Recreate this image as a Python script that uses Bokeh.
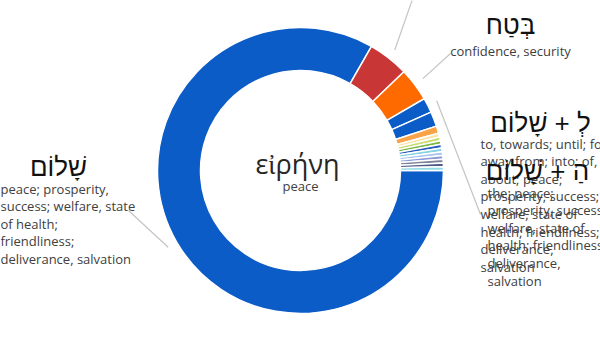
import math
from bokeh.plotting import figure
from bokeh.models import Range1d
from bokeh.core.properties import value
from bokeh.embed import file_html
from bokeh.resources import INLINE

# Hebrew words rendered by εἰρήνη, and how often each one occurs
counts = [199, 11, 9, 4, 4, 2, 1, 1, 1, 1, 1, 1, 1, 1, 1, 1]
slice_colors = ["#0B5CC7", "#C93636", "#FF6A00", "#0B5CC7", "#0B5CC7",
                "#F9A247", "#FCE3A2", "#C9DC6E", "#7DB844", "#2A5DBE",
                "#86D3E3", "#A9C6EE", "#8C9BD8", "#7D8296", "#505C88",
                "#93DBE4"]

# labelled slices: slice index, Hebrew word, English gloss
label_slice = [0, 2, 3, 4]
label_words = ["שָׁלוֹם", "בְּטַח", "לְ + שָׁלוֹם", "הַ + שָׁלוֹם"]
label_glosses = [
    "peace; prosperity,\nsuccess; welfare, state\nof health;\nfriendliness;\ndeliverance, salvation",
    "confidence, security",
    "to, towards; until; for\naway from; into; of,\nabout; peace;\nprosperity, success;\nwelfare, state of\nhealth; friendliness;\ndeliverance,\nsalvation",
    "the; peace;\nprosperity, success\nwelfare, state of\nhealth; friendliness\ndeliverance,\nsalvation",
]
center_word = "εἰρήνη"
center_gloss = "peace"

W, H = 600, 338
CX, CY = 300, 170          # ring centre, in page pixels (y down)
R_OUT, R_IN = 143, 100
FIRST_ANGLE = 90.0         # clockwise degrees from 12 o'clock


def sy(y):
    """page y (down) -> data y (up)"""
    return H - y


p = figure(width=W, height=H, output_backend="svg", toolbar_location=None,
           x_range=Range1d(0, W), y_range=Range1d(0, H), min_border=0)
p.axis.visible = False
p.grid.visible = False
p.outline_line_color = None
p.background_fill_color = "white"
p.border_fill_color = "white"

# slice angles, clockwise from the top
total = sum(counts)
cw_start, cw_end = [], []
acc = FIRST_ANGLE
for c in counts:
    cw_start.append(acc)
    acc += 360.0 * c / total
    cw_end.append(acc)

start_rad = [math.pi / 2 - math.radians(a) for a in cw_start]
end_rad = [math.pi / 2 - math.radians(a) for a in cw_end]

p.annular_wedge(x=[CX] * len(counts), y=[sy(CY)] * len(counts),
                inner_radius=R_IN, outer_radius=R_OUT,
                start_angle=start_rad, end_angle=end_rad, direction="clock",
                fill_color=slice_colors, line_color="white", line_width=1.5)

# leader lines: from just outside each slice's middle to its label
leader_slices = [0, 1, 2, 3]
leader_ends = [(128, 210), (415, -10), (450, 53), (480, 214)]
for i, (ex, ey) in zip(leader_slices, leader_ends):
    mid = math.radians((cw_start[i] + cw_end[i]) / 2)
    r = R_OUT + 10
    x0 = CX + r * math.sin(mid)
    y0 = CY - r * math.cos(mid)
    p.line([x0, ex], [sy(y0), sy(ey)], line_color="#C4C4C4", line_width=1.2)

# centre caption
p.text(x=[CX - 3], y=[sy(163)], text=[center_word], text_font=value("Open Sans"),
       text_font_size="27px", text_color="#262626",
       text_align="center", text_baseline="middle")
p.text(x=[CX], y=[sy(185)], text=[center_gloss], text_font=value("Open Sans"),
       text_font_size="13px", text_color="#404040",
       text_align="center", text_baseline="middle")

# slice labels: Hebrew heading + gloss block
word_pos = [(58, 166), (510, 24), (540, 122), (537, 170)]
gloss_pos = [(0, 179), (510, 41), (480, 134), (487, 183)]
gloss_align = ["left", "center", "left", "left"]
for k in range(len(label_words)):
    wx, wy = word_pos[k]
    gx, gy = gloss_pos[k]
    p.text(x=[wx], y=[sy(wy)], text=[label_words[k]],
           text_font=value("Liberation Sans"), text_font_size="26px",
           text_color="#111111", text_align="center", text_baseline="middle")
    p.text(x=[gx], y=[sy(gy)], text=[label_glosses[k]],
           text_font=value("Open Sans"), text_font_size="13px",
           text_color="#404040", text_align=gloss_align[k],
           text_baseline="top", text_line_height=0.98)

open("out.html", "w").write(file_html(p, INLINE))
